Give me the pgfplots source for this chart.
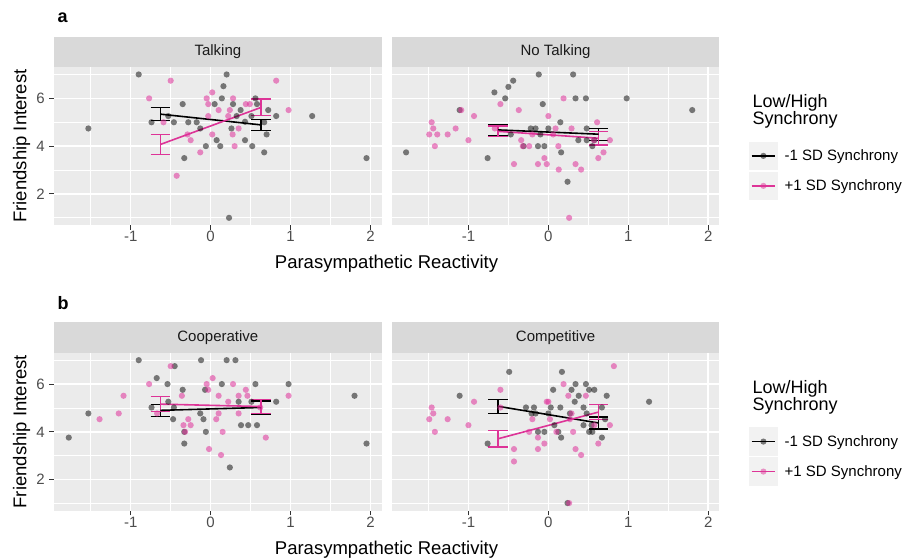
\documentclass[border=0pt]{standalone}
\usepackage{pgfplots}
\pgfplotsset{compat=1.18}
\usepackage{fontspec}
\setmainfont{Liberation Sans}
\definecolor{panelbg}{HTML}{EBEBEB}
\definecolor{stripbg}{HTML}{D9D9D9}
\definecolor{keybg}{HTML}{F2F2F2}
\definecolor{tickc}{HTML}{333333}
\definecolor{ticklabc}{HTML}{4D4D4D}
\definecolor{stripc}{HTML}{1A1A1A}
\definecolor{pinkc}{HTML}{DD3497}
\definecolor{pinkpt}{HTML}{E0309A}
\pgfplotsset{
  facet/.style={
    width=327.7pt, height=157.7pt, scale only axis,
    xmin=-1.96, xmax=2.14, ymin=0.7, ymax=7.3,
    xtick={-1,0,1,2}, xticklabels={-1,0,1,2},
    ytick={2,4,6}, yticklabels={2,4,6},
    minor xtick={-1.5,-0.5,0.5,1.5}, minor ytick={1,3,5,7},
    grid=both,
    major grid style={white, line width=1.5pt},
    minor grid style={white, line width=0.75pt},
    axis background/.style={fill=panelbg},
    axis line style={draw=none},
    tick align=outside, xtick pos=bottom, ytick pos=left,
    major tick length=4.7pt, minor tick length=0pt,
    tick style={color=tickc, line width=1.1pt},
    ticklabel style={font=\fontsize{15}{18}\selectfont, text=ticklabc},
    xticklabel style={inner ysep=1.5pt},
    yticklabel style={inner xsep=4.5pt},
    clip=false,
  },
  rightfacet/.style={facet, yticklabels={}, ytick style={draw=none}},
  graypts/.style={only marks, mark=*, mark size=3.1pt, mark options={draw opacity=0, fill=black, fill opacity=0.5}, forget plot},
  pinkpts/.style={only marks, mark=*, mark size=3.1pt, mark options={draw opacity=0, fill=pinkpt, fill opacity=0.55}, forget plot},
  ebar/.style={line width=1.2pt, unbounded coords=jump, mark=none, forget plot},
  regline/.style={line width=1.6pt, mark=none},
  synclegend/.style={
    legend style={at={(1.0907,0.528)}, anchor=north west, draw=none, fill=none,
      inner sep=0pt, outer sep=0pt, row sep=1.7pt, column sep=7pt,
      font=\fontsize{15}{18}\selectfont, nodes={inner sep=0pt}},
    legend cell align=left,
    legend image code/.code={
      \fill[keybg, draw=none] (0pt,-14.15pt) rectangle (28.6pt,14.15pt);
      \draw[line width=1.5pt] (2.5pt,0pt) -- (26.1pt,0pt);
      \fill[fill opacity=0.5, draw=none] (14.3pt,0pt) circle (3.1pt);
    },
  },
}
\newcommand{\strip}[1]{%
  \fill[stripbg] (rel axis cs:0,1) rectangle ([yshift=30.6pt]rel axis cs:1,1);
  \node[font=\fontsize{15}{18}\selectfont, text=stripc] at ([yshift=15.3pt]rel axis cs:0.5,1) {#1};}
\begin{document}
\begin{tikzpicture}
\useasboundingbox (0,0) rectangle (911pt,558pt);
% ---------------- Row a ----------------
\begin{axis}[facet, at={(54pt,333pt)}, anchor=south west]
\addplot[graypts] coordinates {(-0.90,7.0) (-1.53,4.74) (0.20,7.0) (0.16,6.51) (0.14,6.0) (-0.35,5.76) (0.05,5.76) (0.28,5.76) (0.56,6.0) (0.58,5.76) (0.72,5.51) (0.375,5.51) (0.325,5.26) (0.43,5.02) (0.51,5.26) (0.82,5.26) (1.27,5.26) (-0.74,5.0) (-0.53,5.26) (-0.46,5.0) (-0.28,5.0) (-0.175,5.0) (-0.13,4.74) (0.26,4.74) (0.67,5.0) (0.70,4.49) (0.075,4.25) (0.43,4.25) (-0.06,4.0) (0.12,4.0) (0.52,4.0) (0.67,3.74) (-0.33,3.5) (1.95,3.5) (0.23,1.0)};
\addplot[pinkpts] coordinates {(-0.50,6.74) (0.82,6.74) (-0.77,6.0) (0.02,6.25) (-0.05,6.0) (-0.03,5.76) (0.28,6.0) (0.10,5.51) (0.24,5.51) (0.44,5.76) (0.49,5.76) (0.975,5.51) (0.22,5.26) (-0.03,5.26) (-0.59,5.0) (0.35,4.74) (-0.29,4.49) (0.02,4.49) (0.275,4.49) (-0.25,4.25) (0.30,4.0) (-0.13,3.74) (-0.425,2.76)};
\addplot[ebar, black] coordinates {(-0.75,5.62) (-0.51,5.62) (0,nan) (-0.63,5.62) (-0.63,5.06) (0,nan) (-0.75,5.06) (-0.51,5.06) (0,nan) (0.51,5.12) (0.75,5.12) (0,nan) (0.63,5.12) (0.63,4.66) (0,nan) (0.51,4.66) (0.75,4.66)};
\addplot[ebar, pinkc] coordinates {(-0.75,4.49) (-0.51,4.49) (0,nan) (-0.63,4.49) (-0.63,3.65) (0,nan) (-0.75,3.65) (-0.51,3.65) (0,nan) (0.51,5.97) (0.75,5.97) (0,nan) (0.63,5.97) (0.63,5.27) (0,nan) (0.51,5.27) (0.75,5.27)};
\addplot[regline, black, forget plot] coordinates {(-0.63,5.34) (0.63,4.89)};
\addplot[regline, pinkc, forget plot] coordinates {(-0.63,4.07) (0.63,5.62)};
\strip{Talking}
\end{axis}
\begin{axis}[rightfacet, synclegend, at={(391.7pt,333pt)}, anchor=south west]
\addplot[graypts] coordinates {(-0.12,7.0) (0.31,7.0) (-0.44,6.74) (-0.5,6.48) (-0.675,6.25) (-0.54,6.0) (0.34,6.0) (0.47,6.0) (0.98,6.0) (-0.07,5.76) (-1.11,5.51) (1.80,5.51) (0.15,5.0) (-0.22,4.74) (-0.16,4.74) (0.0,4.74) (0.48,4.74) (-0.47,4.49) (-0.10,4.49) (0.375,4.25) (0.48,4.25) (0.575,4.25) (-0.13,4.0) (-0.05,4.0) (0.55,4.0) (0.16,3.74) (-1.78,3.74) (-0.76,3.5) (0.24,2.51) (-0.31,4.0)};
\addplot[pinkpts] coordinates {(0.19,6.0) (-0.60,5.76) (-0.37,5.51) (-1.09,5.51) (-0.93,5.26) (0.0,5.26) (-1.46,5.0) (0.61,5.0) (-1.44,4.74) (-1.16,4.74) (-0.67,4.74) (0.09,4.74) (0.29,4.74) (-1.49,4.49) (-1.39,4.49) (-1.26,4.49) (-0.2,4.49) (0.06,4.49) (-1.0,4.25) (-0.34,4.25) (0.77,4.25) (-1.42,4.0) (-0.32,4.0) (-0.24,4.0) (0.125,4.0) (0.69,3.74) (-0.05,3.5) (0.625,3.5) (-0.43,3.25) (-0.13,3.25) (-0.02,3.25) (0.34,3.25) (0.13,3.02) (0.41,3.02) (0.26,1.0) (0.57,4.25)};
\addplot[ebar, black] coordinates {(-0.75,4.90) (-0.51,4.90) (0,nan) (-0.63,4.90) (-0.63,4.46) (0,nan) (-0.75,4.46) (-0.51,4.46) (0,nan) (0.51,4.75) (0.75,4.75) (0,nan) (0.63,4.75) (0.63,4.25) (0,nan) (0.51,4.25) (0.75,4.25)};
\addplot[ebar, pinkc] coordinates {(-0.75,4.84) (-0.51,4.84) (0,nan) (-0.63,4.84) (-0.63,4.40) (0,nan) (-0.75,4.40) (-0.51,4.40) (0,nan) (0.51,4.61) (0.75,4.61) (0,nan) (0.63,4.61) (0.63,4.05) (0,nan) (0.51,4.05) (0.75,4.05)};
\addplot[regline, black] coordinates {(-0.63,4.68) (0.63,4.50)};
\addlegendentry{-1 SD Synchrony}
\addplot[regline, pinkc] coordinates {(-0.63,4.62) (0.63,4.33)};
\addlegendentry{+1 SD Synchrony}
\strip{No Talking}
\end{axis}
% ---------------- Row b ----------------
\begin{axis}[facet, at={(54pt,47.3pt)}, anchor=south west]
\addplot[graypts] coordinates {(-0.90,7.0) (-0.12,7.0) (0.20,7.0) (0.31,7.0) (-0.45,6.75) (-0.675,6.25) (-0.54,6.0) (0.14,6.0) (0.56,6.0) (0.975,6.0) (-0.35,5.76) (-0.07,5.76) (1.80,5.51) (-0.53,5.26) (0.35,5.26) (0.51,5.26) (0.82,5.26) (-0.74,5.02) (-0.46,5.02) (-1.53,4.77) (-0.13,4.77) (-0.47,4.53) (-0.09,4.53) (0.38,4.28) (0.47,4.28) (0.58,4.28) (-1.775,3.76) (-0.06,4.0) (-0.33,4.0) (-0.33,3.51) (1.95,3.51) (0.24,2.51)};
\addplot[pinkpts] coordinates {(-0.50,6.75) (0.025,6.25) (-0.77,6.0) (-0.05,6.0) (-0.03,5.76) (0.28,6.0) (0.44,5.76) (-1.09,5.51) (-0.36,5.51) (0.10,5.51) (0.35,5.51) (0.46,5.51) (0.975,5.51) (0.22,5.26) (0.62,5.02) (-1.15,4.77) (-0.67,4.77) (0.10,4.77) (0.35,4.77) (-1.39,4.53) (-0.28,4.53) (0.07,4.53) (-0.34,4.28) (-0.25,4.28) (-0.32,4.0) (0.15,4.0) (0.69,3.76) (-0.02,3.28) (0.13,3.03)};
\addplot[ebar, black] coordinates {(-0.75,5.16) (-0.51,5.16) (0,nan) (-0.63,5.16) (-0.63,4.64) (0,nan) (-0.75,4.64) (-0.51,4.64) (0,nan) (0.51,5.29) (0.75,5.29) (0,nan) (0.63,5.29) (0.63,4.75) (0,nan) (0.51,4.75) (0.75,4.75)};
\addplot[ebar, pinkc] coordinates {(-0.75,5.48) (-0.51,5.48) (0,nan) (-0.63,5.48) (-0.63,4.84) (0,nan) (-0.75,4.84) (-0.51,4.84) (0,nan) (0.51,5.34) (0.75,5.34) (0,nan) (0.63,5.34) (0.63,4.78) (0,nan) (0.51,4.78) (0.75,4.78)};
\addplot[regline, black, forget plot] coordinates {(-0.63,4.90) (0.63,5.02)};
\addplot[regline, pinkc, forget plot] coordinates {(-0.63,5.16) (0.63,5.06)};
\strip{Cooperative}
\end{axis}
\begin{axis}[rightfacet, synclegend, at={(391.7pt,47.3pt)}, anchor=south west]
\addplot[graypts] coordinates {(-0.49,6.51) (0.17,6.51) (0.34,6.0) (0.47,6.0) (0.06,5.76) (0.29,5.76) (0.51,5.76) (0.575,5.76) (-1.11,5.51) (0.38,5.51) (0.73,5.51) (0.33,5.26) (1.26,5.26) (-0.28,5.02) (-0.18,5.02) (0.03,5.02) (0.15,5.02) (0.44,5.02) (0.67,5.02) (-0.21,4.77) (-0.16,4.77) (0.0,4.77) (0.27,4.77) (0.48,4.77) (0.71,4.53) (0.075,4.28) (0.44,4.28) (0.54,4.28) (-0.13,4.0) (-0.05,4.0) (0.51,4.0) (0.55,4.0) (0.125,4.0) (0.67,3.76) (0.16,3.76) (-0.76,3.51) (0.24,1.02)};
\addplot[pinkpts] coordinates {(0.82,6.75) (0.19,6.0) (-0.60,5.76) (0.25,5.51) (0.47,5.51) (-0.93,5.26) (-0.02,5.26) (0.0,5.26) (-1.46,5.02) (-0.60,5.02) (-1.44,4.77) (0.29,4.77) (-1.49,4.53) (-1.26,4.53) (-0.2,4.53) (0.02,4.53) (0.27,4.53) (-1.0,4.28) (0.77,4.28) (0.575,4.28) (-1.42,4.0) (-0.24,4.0) (0.31,4.0) (-0.13,3.76) (0.10,4.0) (-0.05,3.51) (0.625,3.51) (-0.43,3.28) (-0.13,3.28) (0.34,3.28) (0.41,3.03) (-0.43,2.76) (0.26,1.02)};
\addplot[ebar, black] coordinates {(-0.75,5.37) (-0.51,5.37) (0,nan) (-0.63,5.37) (-0.63,4.77) (0,nan) (-0.75,4.77) (-0.51,4.77) (0,nan) (0.51,4.62) (0.75,4.62) (0,nan) (0.63,4.62) (0.63,4.12) (0,nan) (0.51,4.12) (0.75,4.12)};
\addplot[ebar, pinkc] coordinates {(-0.75,4.05) (-0.51,4.05) (0,nan) (-0.63,4.05) (-0.63,3.37) (0,nan) (-0.75,3.37) (-0.51,3.37) (0,nan) (0.51,5.13) (0.75,5.13) (0,nan) (0.63,5.13) (0.63,4.53) (0,nan) (0.51,4.53) (0.75,4.53)};
\addplot[regline, black] coordinates {(-0.63,5.07) (0.63,4.37)};
\addlegendentry{-1 SD Synchrony}
\addplot[regline, pinkc] coordinates {(-0.63,3.71) (0.63,4.83)};
\addlegendentry{+1 SD Synchrony}
\strip{Competitive}
\end{axis}
% ---------------- labels ----------------
\node[anchor=base west, font=\fontsize{18}{20}\selectfont\bfseries] at (54pt,535.3pt) {a};
\node[anchor=base west, font=\fontsize{18}{20}\selectfont\bfseries] at (54pt,248pt) {b};
\node[anchor=base, rotate=90, font=\fontsize{18.5}{20}\selectfont] at (26.5pt,412pt) {Friendship Interest};
\node[anchor=base, rotate=90, font=\fontsize{18.5}{20}\selectfont] at (26.5pt,126.3pt) {Friendship Interest};
\node[anchor=base, font=\fontsize{18.5}{20}\selectfont] at (386.5pt,289.4pt) {Parasympathetic Reactivity};
\node[anchor=base, font=\fontsize{18.5}{20}\selectfont] at (386.5pt,3.7pt) {Parasympathetic Reactivity};
\node[anchor=base west, font=\fontsize{18}{20}\selectfont] at (749pt,450pt) {Low/High};
\node[anchor=base west, font=\fontsize{18}{20}\selectfont] at (749pt,433pt) {Synchrony};
\node[anchor=base west, font=\fontsize{18}{20}\selectfont] at (749pt,164.3pt) {Low/High};
\node[anchor=base west, font=\fontsize{18}{20}\selectfont] at (749pt,147.3pt) {Synchrony};
\end{tikzpicture}
\end{document}
